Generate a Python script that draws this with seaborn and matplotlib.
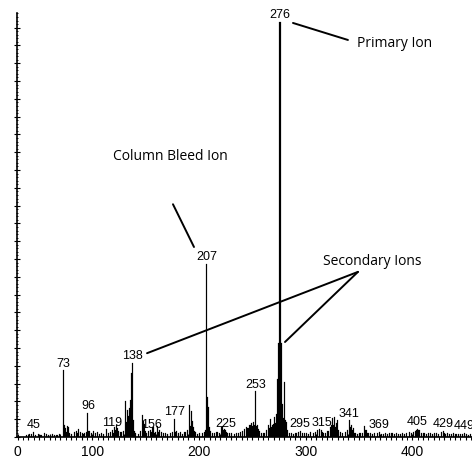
import numpy as np
import pandas as pd
import matplotlib
matplotlib.use("Agg")
import matplotlib.pyplot as plt
import seaborn as sns
from matplotlib.ticker import MultipleLocator, FuncFormatter

# mass spectrum (abundance in %, 276 = 100)
mz = [38, 41, 43, 45, 47, 50, 52, 55, 57, 59, 61, 63, 65, 67, 69,
      73, 74, 75, 76, 77, 78, 79, 81, 83, 85, 86, 87, 89,
      91, 92, 93, 95, 96, 97, 99, 101, 103, 105, 107, 109,
      111, 113, 115, 117, 119, 120, 121, 122, 123, 124, 125, 127, 129,
      131, 132, 133, 134, 135, 136, 137, 138, 139, 140, 141, 143, 145, 147, 148, 149,
      150, 151, 153, 155, 156, 157, 158, 159, 161, 162, 163, 165, 167, 169,
      171, 173, 175, 177, 178, 179, 181, 183, 185, 187, 189,
      191, 192, 193, 194, 195, 196, 197, 199, 201, 203, 205, 206, 207, 208, 209,
      210, 211, 213, 215, 217, 219, 221, 222, 223, 224, 225, 226, 227, 229,
      231, 233, 235, 237, 239, 241, 243, 245, 246, 247, 248, 249,
      250, 251, 252, 253, 254, 255, 256, 257, 259, 261, 263, 265, 266, 267, 268, 269,
      270, 271, 272, 273, 274, 275, 276, 277, 278, 279,
      280, 281, 282, 283, 285, 287, 289, 291, 293, 295, 297, 299,
      301, 303, 305, 307, 309, 311, 313, 315, 316, 317, 319,
      321, 323, 324, 325, 326, 327, 328, 329, 330, 331, 333, 335, 337, 339,
      341, 342, 343, 344, 345, 346, 347, 349, 351, 353, 355, 356, 357, 358, 359,
      361, 363, 365, 367, 369, 371, 373, 375, 377, 379,
      381, 383, 385, 387, 389, 391, 393, 395, 397, 399,
      401, 403, 404, 405, 406, 407, 409, 411, 413, 415, 417, 419,
      421, 423, 425, 427, 429, 430, 431, 433, 435, 437, 439,
      441, 443, 445, 447, 449, 451, 453, 455]
abundance = [0.6, 0.8, 0.7, 1.2, 0.5, 0.8, 0.6, 0.9, 0.7, 0.5, 0.6, 0.8, 0.6, 0.5, 0.7,
             16.1, 2.8, 2.2, 1.2, 2.6, 2.4, 1.0, 0.8, 1.2, 1.5, 1.0, 1.9, 1.2,
             1.0, 0.8, 0.9, 1.3, 5.8, 1.4, 1.0, 1.4, 0.9, 1.1, 0.8, 1.0,
             0.8, 1.9, 1.0, 1.2, 1.7, 1.0, 2.5, 1.6, 3.0, 2.2, 1.4, 1.2, 1.5,
             8.7, 3.5, 6.5, 5.0, 7.0, 9.0, 15.5, 17.8, 4.0, 1.5, 1.0, 0.8, 1.5, 5.4, 3.8, 3.2,
             1.4, 1.0, 1.5, 1.8, 1.3, 2.4, 1.0, 1.1, 2.6, 1.3, 1.6, 1.2, 0.9, 1.0,
             0.8, 1.0, 1.2, 4.3, 1.1, 1.5, 1.0, 1.1, 0.8, 1.3, 1.8,
             7.7, 2.6, 6.2, 3.8, 2.5, 1.5, 1.2, 0.8, 1.0, 0.9, 1.3, 1.6, 41.8, 9.6, 7.3,
             2.4, 1.4, 0.9, 1.0, 1.2, 1.0, 2.4, 2.6, 1.8, 2.0, 1.6, 1.2, 1.0, 0.9,
             1.0, 0.8, 1.0, 0.9, 1.2, 1.5, 1.9, 2.4, 2.1, 2.9, 2.8, 3.3,
             2.6, 3.5, 2.8, 11.0, 2.6, 2.9, 1.9, 1.5, 1.0, 0.9, 1.6, 3.0, 2.2, 4.3, 2.4, 3.0,
             3.2, 4.8, 3.3, 5.5, 14.0, 22.6, 100.0, 22.6, 8.0, 4.6,
             13.3, 4.2, 3.5, 1.8, 1.0, 0.9, 0.8, 1.0, 1.2, 1.4, 1.0, 0.9,
             1.0, 0.8, 1.1, 1.0, 1.3, 1.6, 2.0, 1.8, 1.2, 1.0, 0.9,
             1.5, 2.4, 3.0, 4.5, 3.0, 4.8, 2.5, 3.4, 4.0, 1.8, 1.2, 1.0, 1.2, 1.6,
             4.0, 2.3, 3.0, 1.6, 2.2, 1.0, 1.0, 0.8, 0.9, 1.0, 2.6, 1.8, 1.6, 1.0, 0.9,
             1.0, 0.8, 0.9, 1.0, 1.2, 0.8, 0.7, 0.9, 0.8, 1.0,
             0.9, 0.8, 1.0, 0.8, 0.7, 0.9, 0.8, 1.0, 1.2, 1.0,
             1.2, 1.5, 1.8, 2.0, 1.6, 1.7, 1.0, 0.9, 0.8, 1.0, 0.9, 0.8,
             0.9, 1.0, 0.8, 1.1, 1.5, 1.0, 0.8, 0.9, 0.7, 0.8, 0.9,
             0.7, 0.8, 0.7, 0.8, 1.0, 0.7, 0.6, 0.7]

# peaks that carry a number
label_mz = [45, 73, 96, 119, 138, 156, 177, 207, 225, 253, 276, 295, 315, 341, 369, 405, 429, 449]

# callouts: text, text position, leader line end points (data units)
callouts = [
    ("Primary Ion", (383.8, 94.9), [((339.7, 95.7), (288.2, 99.8))]),
    ("Column Bleed Ion", (172.9, 67.5), [((175.7, 56.1), (195.4, 45.8))]),
    ("Secondary Ions", (362.2, 42.4), [((349.1, 39.8), (151.4, 20.2)),
                                       ((349.1, 39.8), (280.7, 22.9))]),
]

df = pd.DataFrame({"mz": mz, "abundance": abundance})

sns.set_style("ticks")
plt.rcParams['font.family'] = ['Liberation Sans', 'DejaVu Sans']
plt.rcParams['text.color'] = 'black'
plt.rcParams['xtick.color'] = 'black'
plt.rcParams['ytick.color'] = 'black'

fig = plt.figure(figsize=(4.72, 4.57), dpi=100)
ax = fig.add_axes([17 / 472, 20 / 457, 455 / 472, 424 / 457])

sns.histplot(data=df, x="mz", weights="abundance", binwidth=1, binrange=(29.5, 456.5),
             color="black", alpha=1, edgecolor="black", linewidth=0.15, ax=ax)

ax.set_xlim(29.5, 456)
ax.set_ylim(0, 102.2)
ax.set_xlabel("")
ax.set_ylabel("")
sns.despine(ax=ax)
for s in ["left", "bottom"]:
    ax.spines[s].set_linewidth(1.2)
    ax.spines[s].set_color("black")

# x ticks: every 10 with labels only on hundreds
ax.xaxis.set_major_locator(MultipleLocator(10))
ax.xaxis.set_minor_locator(MultipleLocator(5))
ax.xaxis.set_major_formatter(FuncFormatter(lambda v, p: f"{v:.0f}" if v % 100 == 0 else ""))
ax.tick_params(axis="x", which="major", direction="inout", length=5, width=0.8,
               labelsize=10, pad=3, colors="black")
ax.tick_params(axis="x", which="minor", direction="out", length=2.5, width=0.7)
ax.text(0, -0.035, "0", transform=ax.transAxes, ha="center", va="center", fontsize=10)

# y axis: dense unlabeled ticks
ax.yaxis.set_major_locator(MultipleLocator(4.29))
ax.yaxis.set_minor_locator(MultipleLocator(4.29 / 5))
ax.yaxis.set_major_formatter(FuncFormatter(lambda v, p: ""))
ax.tick_params(axis="y", which="major", direction="inout", length=4, width=0.8)
ax.tick_params(axis="y", which="minor", direction="inout", length=2, width=0.6)

# peak numbers
for m in label_mz:
    h = df.loc[df.mz == m, "abundance"].iloc[0]
    ax.annotate(str(m), (m, h), xytext=(0, 0.5), textcoords="offset points",
                ha="center", va="bottom", fontsize=9, annotation_clip=False)

# callouts
for txt, pos, lines in callouts:
    ax.text(pos[0], pos[1], txt, ha="center", va="center", fontsize=10,
            family=["Open Sans", "DejaVu Sans"])
    for a, b in lines:
        ax.annotate("", xy=b, xytext=a,
                    arrowprops=dict(arrowstyle="-", lw=1.4, color="black",
                                    shrinkA=0, shrinkB=0))

fig.savefig("out.png", dpi=100)
